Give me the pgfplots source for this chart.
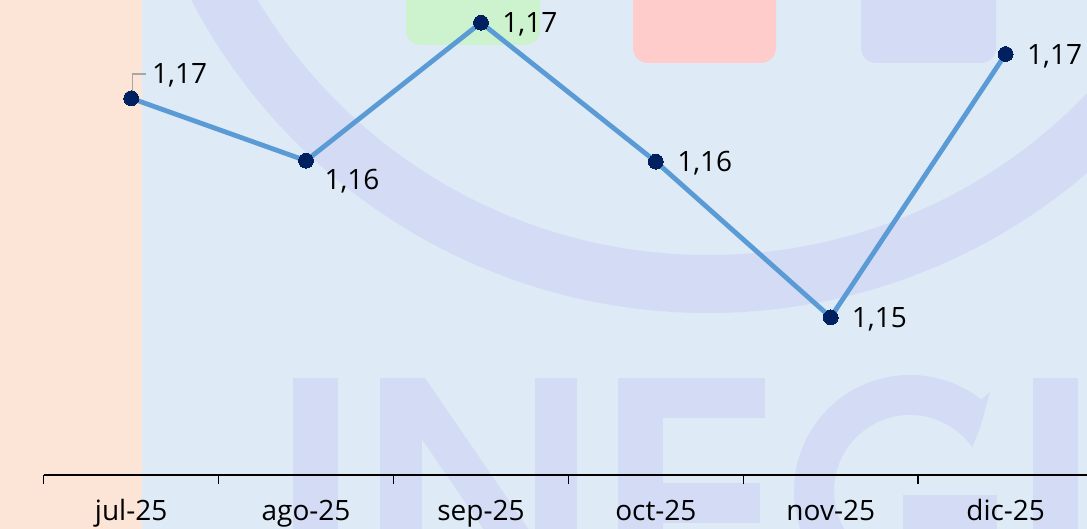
\documentclass[border=0pt]{standalone}
\usepackage{fontspec}
\setmainfont{Open Sans}
\usepackage{pgfplots}
\pgfplotsset{compat=1.18}
\definecolor{bgblue}{HTML}{DEEAF6}
\definecolor{peach}{HTML}{FCE4D6}
\definecolor{wm}{HTML}{D4DCF5}
\definecolor{sqgreen}{HTML}{CCF2CE}
\definecolor{sqpink}{HTML}{FFCCCC}
\definecolor{linecol}{HTML}{5B9BD5}
\definecolor{navy}{HTML}{002060}
\definecolor{leader}{HTML}{A6A6A6}
\pgfplotstableread{
x y xs ys
0 1.16764 10.5 12.15
1 1.16244 9.25 -9.65
2 1.17394 10.75 -0.15
3 1.16236 10.75 -0.15
4 1.14939 10.6 -0.25
5 1.17133 10.75 0
}\datatab
\begin{document}
\begin{tikzpicture}[x=1pt,y=1pt]
\path[use as bounding box, clip] (0,0) rectangle (543.5,264.5);
\fill[bgblue] (0,0) rectangle (543.5,264.5);
\fill[peach] (0,0) rectangle (71,264.5);
% watermark ring
\fill[wm, even odd rule] (354,399.5) circle[radius=291.5] (354,399.5) circle[radius=262.5];
% rounded squares
\fill[sqgreen, rounded corners=7.5pt] (203,242) rectangle (270,290);
\fill[sqpink, rounded corners=7.5pt] (316.5,233) rectangle (388,290);
\fill[wm, rounded corners=7.5pt] (430.5,233) rectangle (498,290);
% letters I N E G I
\fill[wm] (146.5,-20) rectangle (169,75.5);
\fill[wm] (190,-20) rectangle (211,75.5);
\fill[wm] (267.5,-20) rectangle (288.5,75.5);
\fill[wm] (190,75.5) -- (212.5,75.5) -- (288.5,-35.5) -- (266,-35.5) -- cycle;
\fill[wm] (309,-20) rectangle (331.5,75.5);
\fill[wm] (309,55.5) rectangle (382.5,75.5);
\fill[wm] (309,3) rectangle (380,23);
\fill[wm] (495,68.5) -- (490.7,64.7) arc[start angle=52,end angle=260,radius=58] -- (448.4,-18.4) arc[start angle=260,end angle=35,radius=38] -- (490,50.5) -- cycle;
\fill[wm] (451.5,-5.5) rectangle (498.5,17);
\fill[wm] (478.5,-20) rectangle (498.5,17);
\fill[wm] (516.5,-20) rectangle (539,75.5);
\begin{axis}[
  at={(21.85pt,26.75pt)}, anchor=south west,
  scale only axis, width=524.7pt, height=237.75pt,
  xmin=-0.5, xmax=5.5, ymin=1.13621, ymax=1.17583,
  axis x line*=bottom, axis y line=none,
  xtick={0,...,5},
  xticklabels={jul-25,ago-25,sep-25,oct-25,nov-25,dic-25},
  major tick length=0pt,
  minor xtick={-0.5,0.5,...,5.5},
  minor tick length=4.5pt,
  tick align=outside,
  x axis line style={line width=1pt, black},
  every minor tick/.style={line width=0.75pt, black},
  xticklabel style={anchor=base, yshift=-22.75pt, font=\fontsize{14}{16}\selectfont, black},
  clip=false,
]
\addplot[color=linecol, line width=2.4pt, mark=*, mark size=3.7pt,
  mark options={fill=navy, draw=navy, line width=0pt},
  visualization depends on={\thisrow{xs}\as\xs},
  visualization depends on={\thisrow{ys}\as\ys},
  point meta=y,
  nodes near coords={\pgfmathprintnumber[fixed, fixed zerofill, precision=2, use comma, assume math mode=true]{\pgfplotspointmeta}},
  every node near coord/.append style={anchor=base west, inner sep=0pt, xshift=\xs pt, yshift=\ys pt - 5pt, font=\fontsize{14}{16}\selectfont, black},
] table[x=x, y=y] {\datatab};
\draw[leader, line width=0.75pt] (axis cs:0,1.16764) ++(0.65pt,3.15pt) -- ++(0pt,9pt) -- ++(6.75pt,0pt);
\end{axis}
\end{tikzpicture}
\end{document}
